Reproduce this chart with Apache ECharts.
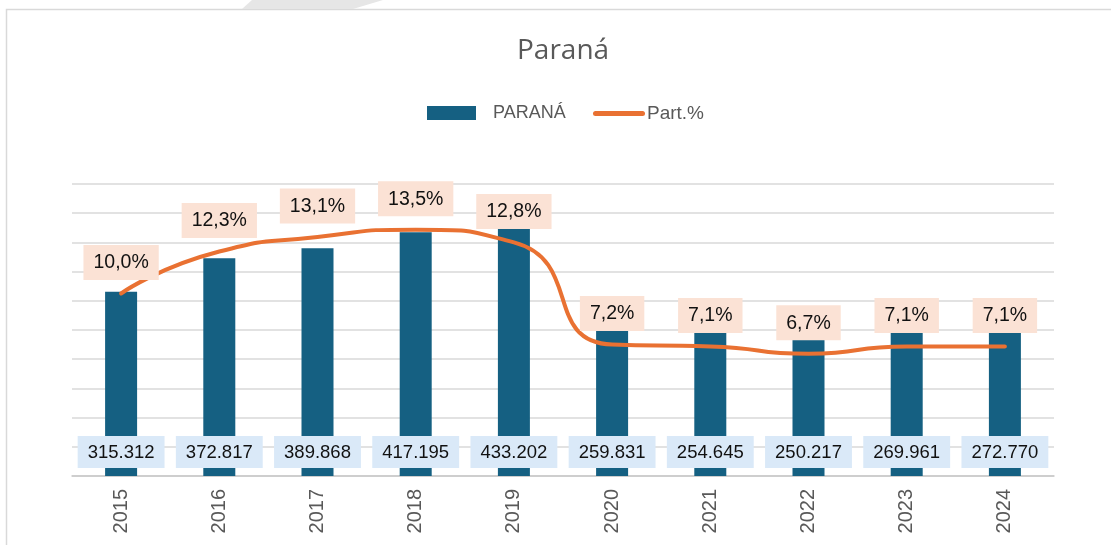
<!DOCTYPE html>
<html>
<head>
<meta charset="utf-8">
<title>Paraná</title>
<script src="https://cdn.jsdelivr.net/npm/echarts@6/dist/echarts.min.js"></script>
<style>
  html, body { margin: 0; padding: 0; background: #fff; }
  #chart { width: 1111px; height: 545px; }
</style>
</head>
<body>
<div id="chart"></div>
<script>
// dados
var anos = ['2015', '2016', '2017', '2018', '2019', '2020', '2021', '2022', '2023', '2024'];
var parana = [315312, 372817, 389868, 417195, 433202, 259831, 254645, 250217, 269961, 272770];
var partPct = [10.0, 12.3, 13.1, 13.5, 12.8, 7.2, 7.1, 6.7, 7.1, 7.1];

var corBarra = '#156082';
var corLinha = '#E97132';
var corTexto = '#595959';
var corGrade = '#D9D9D9';

// 315312 -> 315.312
var fmtMil = function (v) {
  return String(v).replace(/\B(?=(\d{3})+(?!\d))/g, '.');
};
// 10 -> 10,0%
var fmtPct = function (v) {
  return v.toFixed(1).replace('.', ',') + '%';
};

var myChart = echarts.init(document.getElementById('chart'));

var option = {
  backgroundColor: '#fff',
  animation: false,
  title: {
    text: 'Paraná',
    left: 512,
    top: 32,
    textStyle: { fontFamily: 'Open Sans', fontSize: 28, fontWeight: 'normal', color: corTexto }
  },
  legend: [{
    left: 427,
    top: 104,
    padding: 0,
    itemWidth: 49,
    itemHeight: 14,
    data: [{ name: 'PARANÁ', icon: 'rect' }],
    textStyle: { fontFamily: 'Liberation Sans', fontSize: 18, color: corTexto, padding: [0, 0, 0, 12] }
  }, {
    left: 593,
    top: 104,
    padding: 0,
    itemWidth: 52,
    itemHeight: 14,
    data: [{ name: 'Part.%', icon: 'path://M2.5,0 L49.5,0 A2.5,2.5 0 0 1 49.5,5 L2.5,5 A2.5,2.5 0 0 1 2.5,0 Z' }],
    textStyle: { fontFamily: 'Liberation Sans', fontSize: 19, color: corTexto, padding: [0, 0, 0, -3] }
  }],
  graphic: [{
    type: 'polygon',
    shape: { points: [[242, 9], [252, 0], [383, 0], [353, 9]] },
    style: { fill: '#e6e6e6' },
    silent: true
  }, {
    type: 'rect',
    shape: { x: 6.5, y: 9.5, width: 1200, height: 600 },
    style: { fill: 'none', stroke: '#D9D9D9', lineWidth: 1.5 },
    silent: true,
    z: -1
  }],
  grid: { left: 72, right: 57, top: 184, bottom: 69 },
  xAxis: {
    type: 'category',
    data: anos,
    axisTick: { show: false },
    axisLine: { lineStyle: { color: '#C8C8C8', width: 1.5 } },
    axisLabel: { rotate: 90, margin: 13, fontFamily: 'Liberation Sans', fontSize: 20, color: corTexto }
  },
  yAxis: [{
    type: 'value',
    min: 0,
    max: 500000,
    interval: 50000,
    axisLabel: { show: false },
    axisLine: { show: false },
    axisTick: { show: false },
    splitLine: { lineStyle: { color: corGrade, width: 1.5 } }
  }, {
    type: 'value',
    min: 0,
    max: 16,
    show: false,
    splitLine: { show: false }
  }],
  series: [{
    name: 'PARANÁ',
    type: 'bar',
    data: parana,
    barWidth: 32,
    itemStyle: { color: corBarra },
    label: {
      show: true,
      position: 'insideBottom',
      distance: 8,
      formatter: function (p) { return fmtMil(p.value); },
      fontFamily: 'Liberation Sans',
      fontSize: 18.5,
      color: '#111',
      backgroundColor: '#DAE9F8',
      padding: [7, 10, 6, 10]
    }
  }, {
    name: 'Part.%',
    type: 'line',
    yAxisIndex: 1,
    data: partPct,
    smooth: 0.6,
    symbol: 'circle',
    symbolSize: 1,
    showSymbol: true,
    lineStyle: { color: corLinha, width: 4, cap: 'round' },
    itemStyle: { color: corLinha },
    label: {
      show: true,
      position: 'top',
      distance: 13,
      formatter: function (p) { return fmtPct(p.value); },
      fontFamily: 'Liberation Sans',
      fontSize: 19.5,
      color: '#111',
      backgroundColor: '#FBE2D5',
      padding: [8, 10, 7, 10]
    },
    z: 5
  }]
};

myChart.setOption(option);
</script>
</body>
</html>
